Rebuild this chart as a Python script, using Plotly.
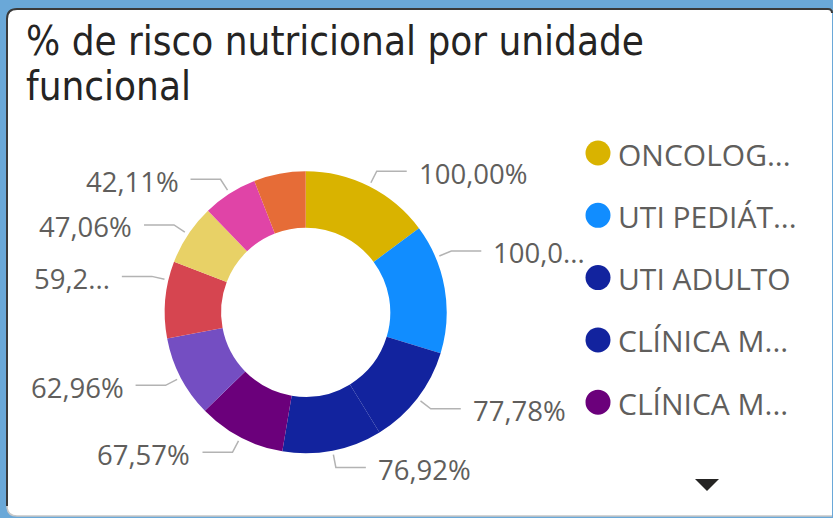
import math
import plotly.graph_objects as go

# ---------------- data ----------------
categories = ["ONCOLOGIA", "UTI PEDIÁTRICA", "UTI ADULTO", "CLÍNICA MÉDICA A",
              "CLÍNICA MÉDICA B", "UNIDADE 6", "UNIDADE 7", "UNIDADE 8",
              "UNIDADE 9", "UNIDADE 10"]
risk_pct = [100.00, 100.00, 77.78, 76.92, 67.57, 62.96, 59.26, 47.06, 42.11, 40.00]
legend_labels = ["ONCOLOG...", "UTI PEDIÁT...", "UTI ADULTO", "CLÍNICA M...", "CLÍNICA M..."]
title_lines = ["% de risco nutricional por unidade", "funcional"]

# ---------------- style ----------------
colors = ["#D9B300", "#118DFF", "#12239E", "#12239E", "#6B007B",
          "#744EC2", "#D64550", "#E8D166", "#E044A7", "#E66C37"]
label_trunc = [None, 5, None, None, None, None, 4, None, None, None]
label_show = [True] * 9 + [False]
label_nudge_deg = [0, -13, 0, 0, 0, 0, 8, 0, 0, 0]

W, H = 833, 518
CX, CY, R = 305.7, 312.3, 141.0
HOLE = 0.6
TEXT_GRAY = "#605E5C"
LINE_GRAY = "#B3B3B3"
LABEL_FONT = dict(family="Open Sans, Noto Sans, sans-serif", size=27.5, color=TEXT_GRAY)
LEGEND_FONT = dict(family="Open Sans, Noto Sans, sans-serif", size=30, color=TEXT_GRAY)
TITLE_FONT = dict(family="DejaVu Sans Condensed, Roboto, sans-serif",
                  size=40, color="#252423")


def px(x):
    return x / W


def py(y):
    return 1 - y / H


fig = go.Figure()
fig.add_trace(go.Pie(
    labels=categories, values=risk_pct, hole=HOLE, sort=False,
    direction="clockwise", rotation=0, textinfo="none", showlegend=False,
    marker=dict(colors=colors, line=dict(color="white", width=0)),
    domain=dict(x=[px(CX - R), px(CX + R)], y=[py(CY + R), py(CY - R)]),
))

shapes = []
annotations = []

# card background
r_c = 10
x0c, y0c, x1c, y1c = 7, 9, 832, 516
card = (f"M {px(x0c)},{py(y0c + r_c)} Q {px(x0c)},{py(y0c)} {px(x0c + r_c)},{py(y0c)} "
        f"L {px(x1c)},{py(y0c)} L {px(x1c)},{py(y1c)} L {px(x0c + r_c)},{py(y1c)} "
        f"Q {px(x0c)},{py(y1c)} {px(x0c)},{py(y1c - r_c)} Z")
shapes.append(dict(type="path", xref="paper", yref="paper", path=card,
                   fillcolor="white", line=dict(width=0), layer="below"))
shapes.append(dict(type="path", xref="paper", yref="paper",
                   path=(f"M {px(x0c)},{py(y1c - r_c)} L {px(x0c)},{py(y0c + r_c)} "
                         f"Q {px(x0c)},{py(y0c)} {px(x0c + r_c)},{py(y0c)} "
                         f"L {px(x1c - 4)},{py(y0c)} Q {px(x1c)},{py(y0c)} {px(x1c)},{py(y0c + 4)}"),
                   line=dict(color="#3A3A3A", width=2), layer="below"))
shapes.append(dict(type="path", xref="paper", yref="paper",
                   path=(f"M {px(x0c)},{py(y1c - r_c)} Q {px(x0c)},{py(y1c)} {px(x0c + r_c)},{py(y1c)} "
                         f"L {px(x1c)},{py(y1c)}"),
                   line=dict(color="#C8C8C8", width=1.5), layer="below"))

# title
for i, line in enumerate(title_lines):
    annotations.append(dict(text=line, xref="paper", yref="paper", x=px(24),
                            y=py(16 + i * 45), xanchor="left", yanchor="top",
                            showarrow=False, font=TITLE_FONT))

# data labels with leader lines
total = sum(risk_pct)
cum = 0.0
for i, v in enumerate(risk_pct):
    mid = (cum + v / 2) / total * 360.0
    cum += v
    if not label_show[i]:
        continue
    a = math.radians(mid + label_nudge_deg[i])
    sx, sy = CX + (R + 4) * math.sin(a), CY - (R + 4) * math.cos(a)
    kx, ky = CX + (R + 17) * math.sin(a), CY - (R + 17) * math.cos(a)
    side = 1 if math.sin(a) >= 0 else -1
    ex = kx + side * 30
    shapes.append(dict(type="path", xref="paper", yref="paper",
                       path=f"M {px(sx)},{py(sy)} L {px(kx)},{py(ky)} L {px(ex)},{py(ky)}",
                       line=dict(color=LINE_GRAY, width=1.5)))
    txt = f"{v:.2f}".replace(".", ",") + "%"
    if label_trunc[i]:
        txt = txt[:label_trunc[i]] + "..."
    annotations.append(dict(text=txt, xref="paper", yref="paper",
                            x=px(ex + side * 11), y=py(ky + 2),
                            xanchor="left" if side > 0 else "right", yanchor="middle",
                            showarrow=False, font=LABEL_FONT, borderpad=0))

# manual legend (first five visible entries)
LX, LY0, LSTEP, LR = 598, 153, 62.3, 12.5
for i, name in enumerate(legend_labels):
    yy = LY0 + i * LSTEP
    shapes.append(dict(type="circle", xref="paper", yref="paper",
                       x0=px(LX - LR), x1=px(LX + LR), y0=py(yy + LR), y1=py(yy - LR),
                       fillcolor=colors[i], line=dict(width=0)))
    annotations.append(dict(text=name, xref="paper", yref="paper", x=px(LX + 19),
                            y=py(yy + 1), xanchor="left", yanchor="middle",
                            showarrow=False, font=LEGEND_FONT, borderpad=0))

# legend scroll arrow
AX, AY = 707, 485
shapes.append(dict(type="path", xref="paper", yref="paper",
                   path=f"M {px(AX - 12)},{py(AY - 6)} L {px(AX + 12)},{py(AY - 6)} L {px(AX)},{py(AY + 6)} Z",
                   fillcolor="#252423", line=dict(width=0)))

fig.update_layout(
    width=W, height=H, margin=dict(l=0, r=0, t=0, b=0),
    paper_bgcolor="#6AA8D8", plot_bgcolor="#6AA8D8",
    shapes=shapes, annotations=annotations, showlegend=False,
)

fig.write_html("out.html", config={"displayModeBar": False},
               post_script="document.body.style.margin='0px';")
